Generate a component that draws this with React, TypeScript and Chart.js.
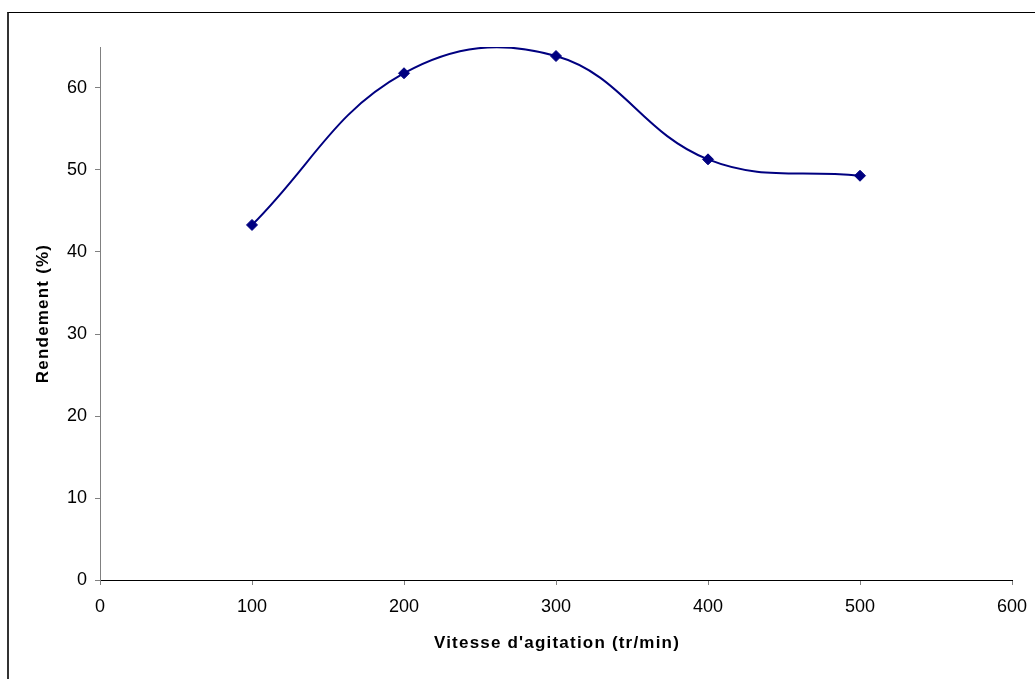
import React, { useEffect, useRef } from "react";
import { Chart, registerables } from "chart.js";

Chart.register(...registerables);

const speeds = [100, 200, 300, 400, 500];
const yields = [43.3, 61.8, 63.9, 51.3, 49.3];
const xTitle = "Vitesse d'agitation (tr/min)";
const yTitle = "Rendement (%)";

const W = 1035;
const H = 679;

const titlePlugin = {
  id: "axisTitles",
  afterDraw(chart: any) {
    const { ctx, chartArea } = chart;
    ctx.save();
    ctx.font = "bold 17px 'Liberation Sans', Arial, sans-serif";
    ctx.fillStyle = "#000";
    (ctx as any).letterSpacing = "1.2px";
    ctx.textAlign = "center";
    ctx.textBaseline = "middle";
    const cx = (chartArea.left + chartArea.right) / 2;
    ctx.fillText(xTitle, cx + 1, 643);
    ctx.translate(43, (chartArea.top + chartArea.bottom) / 2);
    ctx.rotate(-Math.PI / 2);
    ctx.fillText(yTitle, 0, 0);
    ctx.restore();
  },
};

export default function App() {
  const ref = useRef<HTMLCanvasElement | null>(null);
  useEffect(() => {
    if (!ref.current) return;
    const font = { family: "'Liberation Sans', Arial, sans-serif", size: 18 };
    const chart = new Chart(ref.current, {
      type: "line",
      data: {
        datasets: [
          {
            data: speeds.map((s, i) => ({ x: s, y: yields[i] })),
            borderColor: "#000080",
            backgroundColor: "#000080",
            borderWidth: 2,
            tension: 0.4,
            pointStyle: "rectRot",
            pointRadius: 5.5,
            pointBackgroundColor: "#000080",
            pointBorderColor: "#000080",
            pointBorderWidth: 1,
            capBezierPoints: false,
          } as any,
        ],
      },
      options: {
        responsive: false,
        animation: false,
        layout: { padding: { left: 0, top: 47, right: 23, bottom: 0 } },
        plugins: { legend: { display: false }, tooltip: { enabled: false } },
        scales: {
          x: {
            type: "linear",
            min: 0,
            max: 600,
            ticks: { stepSize: 100, color: "#000", font, padding: 11, maxRotation: 0 },
            grid: { display: true, drawOnChartArea: false, drawTicks: true, tickLength: 5, color: "#808080" },
            border: { display: true, color: "#000", width: 1 },
            afterFit(scale: any) {
              scale.height = 99;
              scale.paddingLeft = 0;
              scale.paddingRight = 0;
            },
          },
          y: {
            type: "linear",
            min: 0,
            max: 65,
            ticks: { stepSize: 10, includeBounds: false, color: "#000", font, padding: 8 },
            grid: { display: true, drawOnChartArea: false, drawTicks: true, tickLength: 5, color: "#808080" },
            border: { display: true, color: "#808080", width: 1 },
            afterFit(scale: any) {
              scale.width = 100;
              scale.paddingTop = 0;
              scale.paddingBottom = 0;
            },
          },
        },
      } as any,
      plugins: [titlePlugin],
    });
    return () => chart.destroy();
  }, []);
  return (
    <div style={{ position: "absolute", left: 0, top: 0, width: W, height: H, overflow: "hidden", background: "#fff" }}>
      <div
        style={{
          position: "absolute",
          left: 7,
          top: 12,
          width: W - 7,
          height: H - 12,
          borderLeft: "2px solid #333",
          borderTop: "1px solid #000",
          boxSizing: "border-box",
        }}
      />
      <canvas ref={ref} width={W} height={H} style={{ position: "absolute", left: 0, top: 0 }} />
    </div>
  );
}
